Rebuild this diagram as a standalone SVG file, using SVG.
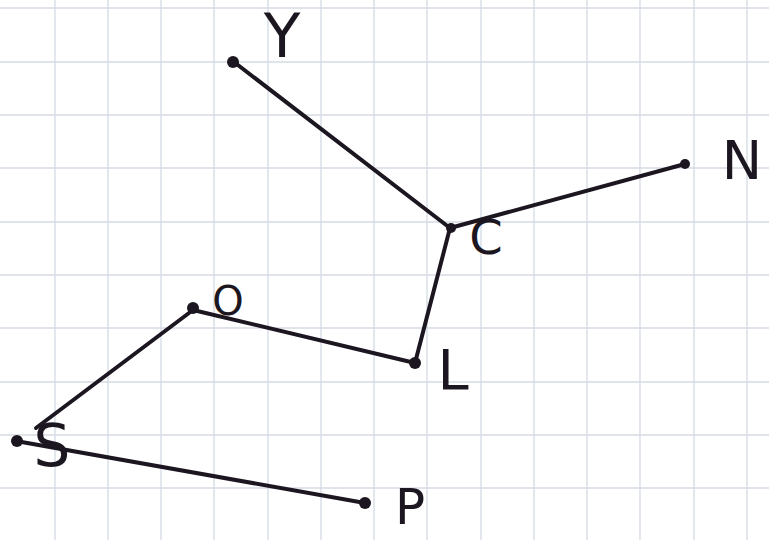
<svg xmlns="http://www.w3.org/2000/svg" width="769" height="540" viewBox="0 0 769 540">
<style>
.grid line{stroke:#d3dbe3;stroke-width:1.3}
.edge{stroke:#1c1620;stroke-width:4;stroke-linecap:round;fill:none}
.dot{fill:#1c1620}
.lbl{font-family:"DejaVu Sans","Liberation Sans",sans-serif;fill:#1c1620;text-anchor:middle}
</style>
<rect width="769" height="540" fill="#ffffff"/>
<g class="grid">
<line x1="55" y1="0" x2="55" y2="540"/><line x1="108" y1="0" x2="108" y2="540"/><line x1="161" y1="0" x2="161" y2="540"/><line x1="214" y1="0" x2="214" y2="540"/><line x1="268" y1="0" x2="268" y2="540"/><line x1="321" y1="0" x2="321" y2="540"/><line x1="374" y1="0" x2="374" y2="540"/><line x1="427" y1="0" x2="427" y2="540"/><line x1="481" y1="0" x2="481" y2="540"/><line x1="534" y1="0" x2="534" y2="540"/><line x1="587" y1="0" x2="587" y2="540"/><line x1="640" y1="0" x2="640" y2="540"/><line x1="694" y1="0" x2="694" y2="540"/><line x1="747" y1="0" x2="747" y2="540"/>
<line x1="0" y1="8" x2="769" y2="8"/><line x1="0" y1="62" x2="769" y2="62"/><line x1="0" y1="115" x2="769" y2="115"/><line x1="0" y1="168" x2="769" y2="168"/><line x1="0" y1="222" x2="769" y2="222"/><line x1="0" y1="275" x2="769" y2="275"/><line x1="0" y1="328" x2="769" y2="328"/><line x1="0" y1="382" x2="769" y2="382"/><line x1="0" y1="435" x2="769" y2="435"/><line x1="0" y1="488" x2="769" y2="488"/>
</g>
<g id="connectors">
<line class="edge" x1="234" y1="62" x2="450" y2="228"/>
<line class="edge" x1="450" y1="228" x2="685" y2="164"/>
<line class="edge" x1="450" y1="228" x2="415" y2="363"/>
<line class="edge" x1="415" y1="363" x2="193" y2="310"/>
<line class="edge" x1="193" y1="310" x2="36" y2="428"/>
<line class="edge" x1="16" y1="441" x2="365" y2="503"/>
</g>
<g id="node-Y"><circle class="dot" cx="233" cy="62" r="6"/><text class="lbl" x="282" y="57" font-size="60">Y</text></g>
<g id="node-C"><circle class="dot" cx="451" cy="228" r="5"/><text class="lbl" x="486" y="254" font-size="48">C</text></g>
<g id="node-N"><circle class="dot" cx="685" cy="164" r="5"/><text class="lbl" x="742" y="179" font-size="54">N</text></g>
<g id="node-O"><circle class="dot" cx="193" cy="308" r="6"/><text class="lbl" x="228" y="315" font-size="40">O</text></g>
<g id="node-L"><circle class="dot" cx="415" cy="363" r="6"/><text class="lbl" x="453" y="389" font-size="56">L</text></g>
<g id="node-S"><circle class="dot" cx="17" cy="441" r="6"/><text class="lbl" x="52" y="466" font-size="58">S</text></g>
<g id="node-P"><circle class="dot" cx="365" cy="503" r="6"/><text class="lbl" x="410" y="524" font-size="50">P</text></g>
</svg>
